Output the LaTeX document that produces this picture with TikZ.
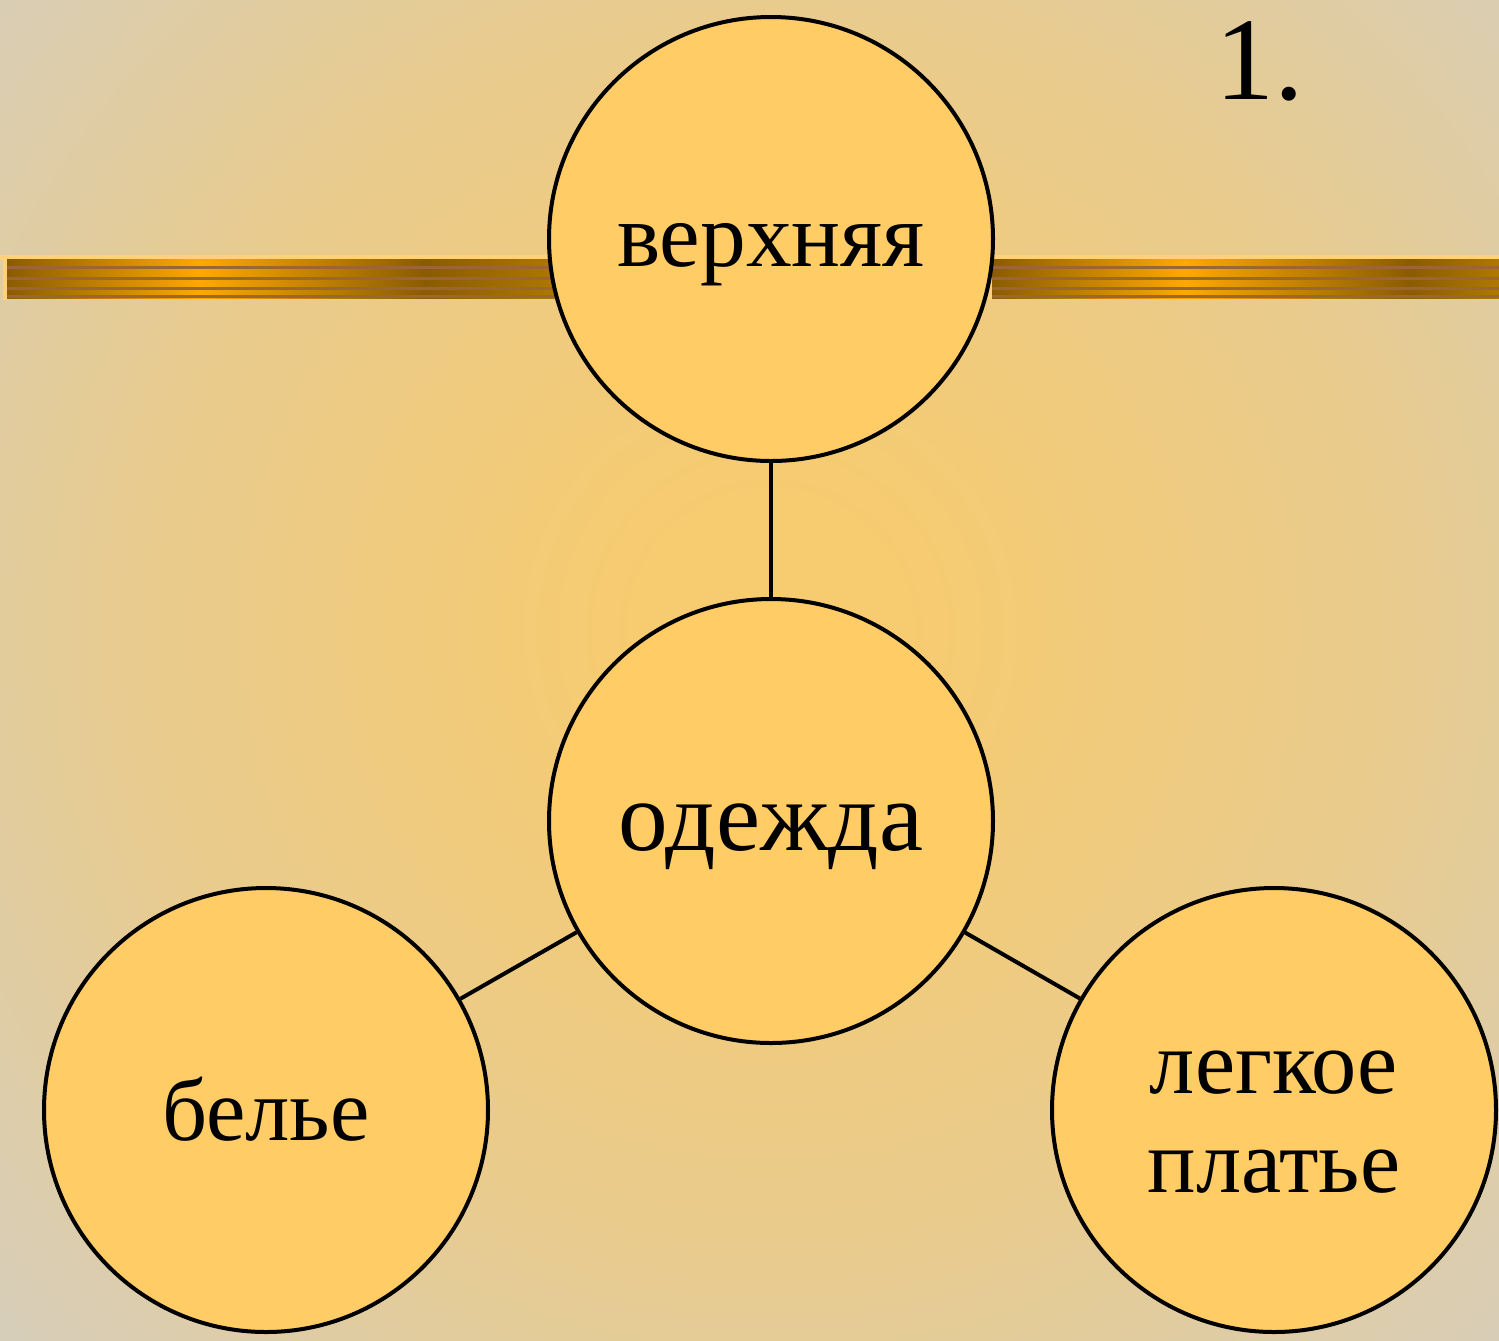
\documentclass[tikz,border=0pt]{standalone}
\usepackage{fontspec}
\setmainfont{Liberation Serif}
\definecolor{bgin}{HTML}{F7CB6F}
\definecolor{bgmid}{HTML}{E8CB8E}
\definecolor{bgout}{HTML}{D6CEBC}
\definecolor{circfill}{HTML}{FFCC66}
\definecolor{bardark}{HTML}{8A5C00}
\definecolor{barorange}{HTML}{FFA800}
\definecolor{barmid}{HTML}{B07800}
\definecolor{barstripe}{HTML}{9C6633}
\definecolor{barlight}{HTML}{FFD27A}
\pgfdeclareradialshading{bgglow}{\pgfpoint{0bp}{0bp}}{color(0bp)=(bgin); color(3bp)=(bgin); color(15bp)=(bgmid); color(25bp)=(bgout); color(50bp)=(bgout)}
\begin{document}
\begin{tikzpicture}[x=0.5pt,y=-0.5pt,
  bubble/.style={circle, draw=black, line width=2pt, fill=circfill, minimum size=222pt, inner sep=0pt, align=center},
  link/.style={draw=black, line width=2pt},
  numlabel/.style={font=\fontsize{59}{59}\selectfont, anchor=base west, inner sep=0pt}]
\useasboundingbox (0,0) rectangle (1499,1340);
% background
\fill[bgout] (0,0) rectangle (1499,1340);
\begin{scope}
  \clip (0,0) rectangle (1499,1340);
  \shade[shading=bgglow] (770,630) circle[radius=530pt];
\end{scope}
% bars
\foreach \dx/\xe in {0/560, 985/514} {
  \begin{scope}[xshift=\dx*0.5pt]
    \fill[barlight] (0,255) rectangle (\xe,260);
    \fill[barlight] (3,255) rectangle (8,300);
    \shade[left color=bardark, right color=barorange] (7,259) rectangle (200,298);
    \shade[left color=barorange, right color=bardark] (199.5,259) rectangle (425,298);
    \shade[left color=bardark, right color=barmid] (424.5,259) rectangle (\xe,298);
    \foreach \ya/\yb in {265.5/268.5, 277/280, 287/290, 295/298}
      \fill[barstripe] (7,\ya) rectangle (\xe,\yb);
  \end{scope}
}
% nodes
\node[bubble, font=\fontsize{45.7}{50}\selectfont, text height=27pt, text depth=0pt] (top) at (771,239) {верхняя};
\node[bubble, font=\fontsize{49.6}{50}\selectfont, text height=29pt, text depth=0pt] (mid) at (771,821) {одежда};
\node[bubble, font=\fontsize{44.3}{50}\selectfont, text height=30pt, text depth=0pt] (left) at (266,1110) {белье};
\node[bubble, font=\fontsize{45.2}{49.5}\selectfont, text height=82pt, text depth=0pt] (right) at (1274,1110) {легкое\\платье};
\node[numlabel] (num) at (1215,99) {1.};
% connectors
\draw[link] (top) -- (mid);
\draw[link] (mid) -- (left);
\draw[link] (mid) -- (right);
\end{tikzpicture}
\end{document}
